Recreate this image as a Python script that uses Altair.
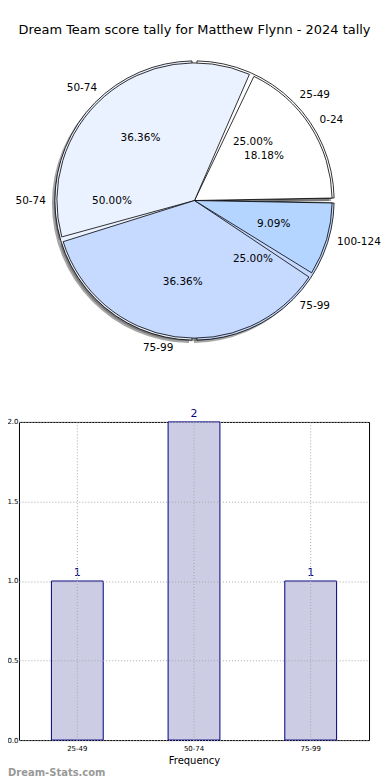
import altair as alt
import pandas as pd

# ---- data ----
title_text = "Dream Team score tally for Matthew Flynn - 2024 tally"

outer_labels = ["25-49", "50-74", "75-99"]
outer_counts = [1, 2, 1]
outer_colors = ["#FFFFFF", "#EAF1FF", "#C6D9FF"]

inner_labels = ["0-24", "50-74", "75-99", "100-124"]
inner_counts = [2, 4, 4, 1]
inner_colors = ["#FFFFFF", "#EAF1FF", "#C6D9FF", "#B4D5FF"]

bar_categories = ["25-49", "50-74", "75-99"]
bar_values = [1, 2, 1]
y_ticks = [0.0, 0.5, 1.0, 1.5, 2.0]

watermark = ["Dream-Stats.com"]

FONT = "DejaVu Sans"
PIE_W = 352
PIE_H = 308
R_INNER = 138
R_OUTER = 140
R_LABEL = 149


def pie_frame(labels, counts, colors):
    return pd.DataFrame({
        "label": labels,
        "count": counts,
        "color": colors,
        "order": list(range(len(labels))),
    })


def pie_base(df):
    return (
        alt.Chart(df)
        .transform_joinaggregate(total="sum(count)")
        .transform_window(cum="sum(count)", sort=[alt.SortField("order")], frame=[None, 0])
        .transform_calculate(
            a0="2*PI*(datum.cum - datum.count)/datum.total",
            a1="2*PI*datum.cum/datum.total",
        )
        .transform_calculate(
            t_lo="2.5*PI - datum.a1",
            t_hi="2.5*PI - datum.a0",
        )
        .transform_calculate(
            mid="(datum.t_lo + datum.t_hi)/2",
            pct="format(100*datum.count/datum.total, '.2f') + '%'",
        )
        .transform_calculate(side="sin(datum.mid) >= 0 ? 1 : -1")
    )


outer_df = pie_frame(outer_labels, outer_counts, outer_colors)
inner_df = pie_frame(inner_labels, inner_counts, inner_colors)


def shadow(df, r):
    return pie_base(df).mark_arc(radius=r, padAngle=0.036, fill="#4d4d4d", opacity=0.5).encode(
        theta=alt.Theta("t_lo:Q", scale=None),
        theta2="t_hi:Q",
        x=alt.value(PIE_W / 2 - 3),
        y=alt.value(PIE_H / 2 + 3),
    )


def arcs(df, r):
    return pie_base(df).mark_arc(radius=r, padAngle=0.036, stroke="black", strokeWidth=0.8).encode(
        theta=alt.Theta("t_lo:Q", scale=None),
        theta2="t_hi:Q",
        fill=alt.Color("color:N", scale=None),
    )


def labels(df, r):
    out = []
    for side, align in [(1, "left"), (-1, "right")]:
        out.append(
            pie_base(df)
            .transform_filter(f"datum.side == {side}")
            .mark_text(align=align, baseline="middle", fontSize=10.5, font=FONT, color="black")
            .encode(
                theta=alt.Theta("mid:Q", scale=None),
                radius=alt.value(R_LABEL),
                text="label:N",
            )
        )
    out.append(
        pie_base(df)
        .mark_text(align="center", baseline="middle", fontSize=10.5, font=FONT, color="black")
        .encode(
            theta=alt.Theta("mid:Q", scale=None),
            radius=alt.value(r * 0.6),
            text="pct:N",
        )
    )
    return out


pie = alt.layer(
    shadow(outer_df, R_OUTER),
    shadow(inner_df, R_INNER),
    arcs(outer_df, R_OUTER),
    arcs(inner_df, R_INNER),
    *labels(outer_df, R_INNER),
    *labels(inner_df, R_INNER),
).properties(
    width=PIE_W,
    height=PIE_H,
    title=alt.TitleParams(title_text, fontSize=13, font=FONT, fontWeight="normal",
                          anchor="middle", color="black", offset=10),
    view=alt.ViewBackground(stroke="transparent"),
)

# ---- bar chart ----
bar_df = pd.DataFrame({"cat": bar_categories, "val": bar_values})

x_enc = alt.X(
    "cat:N", sort=None,
    scale=alt.Scale(paddingInner=0.556, paddingOuter=0.278),
    axis=alt.Axis(title="Frequency", labelAngle=0, labelFontSize=7, labelFont=FONT,
                  titleFontSize=10, titleFont=FONT, titleFontWeight="normal",
                  titleColor="black", labelColor="black",
                  grid=True, gridDash=[1, 2], gridColor="#a8a8a8", gridWidth=1,
                  ticks=False, domain=False, labelPadding=4, titlePadding=4,
                  bandPosition=0.5, zindex=1),
)
y_enc = alt.Y(
    "val:Q",
    scale=alt.Scale(domain=[0, 2], nice=False),
    axis=alt.Axis(title=None, values=y_ticks, format=".1f", labelFontSize=7, labelFont=FONT,
                  labelColor="black", grid=True, gridDash=[1, 2], gridColor="#a8a8a8",
                  ticks=False, domain=False, labelPadding=1, zindex=1),
)

bars = alt.Chart(bar_df).mark_bar(color="#CCCCE5", stroke="#000080", strokeWidth=1).encode(
    x=x_enc, y=y_enc
)
bar_text = alt.Chart(bar_df).mark_text(
    baseline="alphabetic", dy=-5, color="#000080", fontSize=11, font=FONT
).encode(x=alt.X("cat:N", sort=None), y="val:Q", text="val:Q")

wm = alt.Chart(pd.DataFrame({"t": watermark})).mark_text(
    align="left", baseline="middle", fontSize=10, fontWeight="bold", font=FONT, color="#999999"
).encode(x=alt.value(-11), y=alt.value(352), text="t:N")

bar_chart = alt.layer(bars, bar_text, wm).properties(
    width=351, height=319,
    view=alt.ViewBackground(stroke="black", strokeWidth=1),
)

chart = alt.vconcat(pie, bar_chart, spacing=52).properties(
    padding={"left": -2, "top": 14, "right": 0, "bottom": 0},
    background="white",
).configure(font=FONT)

chart.save("out.html", embed_options={"renderer": "svg", "actions": False})
